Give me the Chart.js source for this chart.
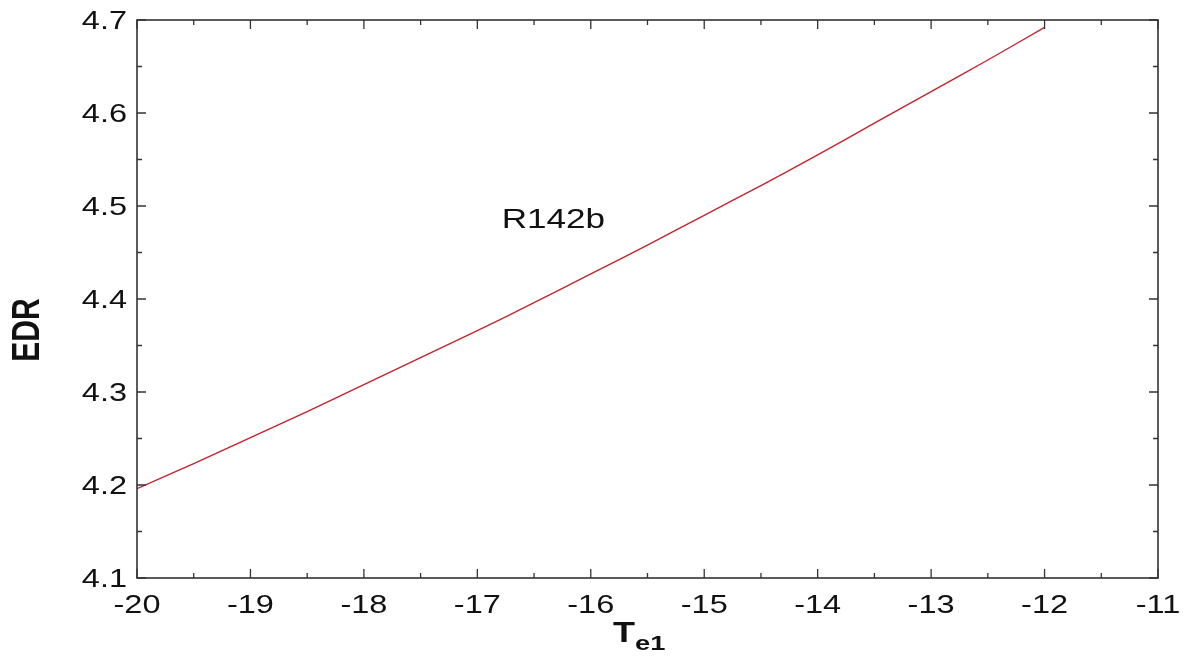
<!DOCTYPE html>
<html>
<head>
<meta charset="utf-8">
<script src="https://cdn.jsdelivr.net/npm/chart.js@4.4.1/dist/chart.umd.min.js"></script>
<style>
  html, body { margin: 0; padding: 0; background: #fff; }
  #wrap { width: 1188px; height: 656px; }
</style>
</head>
<body>
<div id="wrap"><canvas id="c" width="1188" height="656"></canvas></div>
<script>
// Evaporating temperature Te1 (°C)
const te1 = [-20, -19.5, -19, -18.5, -18, -17.5, -17, -16.5, -16, -15.5, -15, -14.5, -14, -13.5, -13, -12.5, -12];
// EDR for R142b
const edr = [4.196, 4.223, 4.251, 4.279, 4.308, 4.337, 4.366, 4.396, 4.427, 4.458, 4.490, 4.522, 4.555, 4.589, 4.623, 4.657, 4.692];
const xTicks = [-20, -19, -18, -17, -16, -15, -14, -13, -12, -11];
const yTicks = [4.1, 4.2, 4.3, 4.4, 4.5, 4.6, 4.7];
const seriesName = 'R142b';

const FONT = '"Liberation Sans", Arial, sans-serif';
const PLOT = { left: 137, right: 1158, top: 20, bottom: 578 };
const WIDE = 1.3;   // horizontal stretch of the lettering

// text drawn with a horizontal stretch; align is relative to the anchor point
function wideText(ctx, text, x, y, align, font, sx) {
  ctx.save();
  ctx.font = font;
  ctx.textAlign = align;
  ctx.textBaseline = 'alphabetic';
  ctx.translate(x, y);
  ctx.scale(sx, 1);
  ctx.fillText(text, 0, 0);
  ctx.restore();
}

// frame, inward tick marks on all four sides, tick labels, titles and curve label
const decor = {
  id: 'decor',
  afterDraw(chart) {
    const { ctx, chartArea: a, scales: { x, y } } = chart;
    ctx.save();
    ctx.strokeStyle = '#333';
    ctx.lineWidth = 1.6;
    ctx.strokeRect(a.left, a.top, a.right - a.left, a.bottom - a.top);
    ctx.lineWidth = 1.3;
    const major = 9, minor = 5;
    ctx.beginPath();
    for (let i = 0; i < xTicks.length; i++) {
      const v = xTicks[i];
      const px = x.getPixelForValue(v);
      ctx.moveTo(px, a.bottom); ctx.lineTo(px, a.bottom - major);
      ctx.moveTo(px, a.top); ctx.lineTo(px, a.top + major);
      if (i < xTicks.length - 1) {
        const pm = x.getPixelForValue(v + 0.5);
        ctx.moveTo(pm, a.bottom); ctx.lineTo(pm, a.bottom - minor);
        ctx.moveTo(pm, a.top); ctx.lineTo(pm, a.top + minor);
      }
    }
    for (let i = 0; i < yTicks.length; i++) {
      const v = yTicks[i];
      const py = y.getPixelForValue(v);
      ctx.moveTo(a.left, py); ctx.lineTo(a.left + major, py);
      ctx.moveTo(a.right, py); ctx.lineTo(a.right - major, py);
      if (i < yTicks.length - 1) {
        const pm = y.getPixelForValue(v + 0.05);
        ctx.moveTo(a.left, pm); ctx.lineTo(a.left + minor, pm);
        ctx.moveTo(a.right, pm); ctx.lineTo(a.right - minor, pm);
      }
    }
    ctx.stroke();

    ctx.fillStyle = '#111';
    const tickFont = '25px ' + FONT;
    xTicks.forEach(v => wideText(ctx, String(v), x.getPixelForValue(v), a.bottom + 35, 'center', tickFont, WIDE));
    yTicks.forEach(v => wideText(ctx, v.toFixed(1), a.left - 10, y.getPixelForValue(v) + 9, 'right', tickFont, WIDE));

    // y-axis title, rotated; the stretch runs across the letters
    ctx.save();
    ctx.translate(28, 330);
    ctx.rotate(-Math.PI / 2);
    ctx.scale(1, WIDE);
    ctx.font = 'bold 30px ' + FONT;
    ctx.textAlign = 'center';
    ctx.textBaseline = 'middle';
    ctx.fillText('EDR', 0, 0);
    ctx.restore();

    // x-axis title: T with subscript e1
    const tFont = 'bold 30px ' + FONT;
    const sFont = 'bold 21px ' + FONT;
    ctx.font = tFont;
    const tW = ctx.measureText('T').width * 1.2;
    wideText(ctx, 'T', 613, 642, 'left', tFont, 1.2);
    wideText(ctx, 'e1', 613 + tW, 650, 'left', sFont, WIDE);

    // curve label
    wideText(ctx, seriesName, x.getPixelForValue(-16.33), y.getPixelForValue(4.487) + 10, 'center', '27px ' + FONT, WIDE);
    ctx.restore();
  }
};

new Chart(document.getElementById('c'), {
  type: 'line',
  data: {
    datasets: [{
      label: seriesName,
      data: te1.map((t, i) => ({ x: t, y: edr[i] })),
      borderColor: 'rgb(195, 35, 45)',
      borderWidth: 1.4,
      pointRadius: 0,
      fill: false,
      tension: 0.3
    }]
  },
  options: {
    responsive: false,
    animation: false,
    devicePixelRatio: 1,
    layout: { padding: { left: 0, right: 1188 - PLOT.right, top: PLOT.top, bottom: 0 } },
    plugins: { legend: { display: false }, tooltip: { enabled: false } },
    scales: {
      x: {
        type: 'linear',
        min: -20, max: -11,
        afterBuildTicks(axis) { axis.ticks = xTicks.map(v => ({ value: v })); },
        afterFit(axis) { axis.height = 656 - PLOT.bottom; },
        grid: { display: false, drawTicks: false },
        border: { display: false },
        ticks: { display: false }
      },
      y: {
        type: 'linear',
        min: 4.1, max: 4.7,
        afterBuildTicks(axis) { axis.ticks = yTicks.map(v => ({ value: v })); },
        afterFit(axis) { axis.width = PLOT.left; },
        grid: { display: false, drawTicks: false },
        border: { display: false },
        ticks: { display: false }
      }
    }
  },
  plugins: [decor]
});
</script>
</body>
</html>
